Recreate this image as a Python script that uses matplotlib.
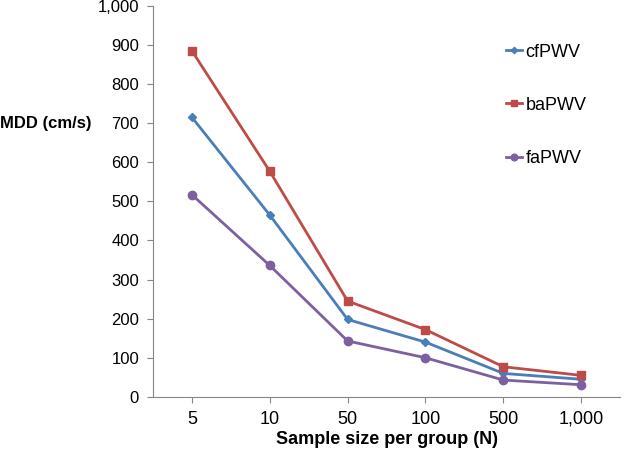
import matplotlib
matplotlib.use("agg")
import matplotlib.pyplot as plt
import numpy as np

# data
sizes = ["5", "10", "50", "100", "500", "1,000"]
cf_pwv = [715, 465, 198, 140, 60, 45]
ba_pwv = [885, 577, 245, 172, 77, 55]
fa_pwv = [517, 336, 143, 100, 43, 31]
y_ticks = [0, 100, 200, 300, 400, 500, 600, 700, 800, 900, 1000]

plt.rcParams["font.family"] = ["Liberation Sans", "DejaVu Sans"]

fig = plt.figure(figsize=(6.4, 4.51), dpi=100)
ax = fig.add_axes([0.239, 0.12, 0.730, 0.867])

x = np.arange(len(sizes))
ax.plot(x, cf_pwv, color="#4a7ebb", marker="D", markersize=4, lw=2, label="cfPWV")
ax.plot(x, ba_pwv, color="#be4b48", marker="s", markersize=6, lw=2, label="baPWV")
ax.plot(x, fa_pwv, color="#7d60a0", marker="o", markersize=6, lw=2, label="faPWV")

ax.set_xlim(-0.5, len(sizes) - 0.5)
ax.set_ylim(0, 1000)
ax.set_xticks(x)
ax.set_xticklabels(sizes)
ax.set_yticks(y_ticks)
ax.set_yticklabels([f"{v:,}" for v in y_ticks])
ax.tick_params(axis="both", labelsize=12, color="#868686", length=4, direction="out")
ax.tick_params(axis="x", labelsize=13, pad=6)
ax.tick_params(axis="y", pad=6)

for side in ["top", "right"]:
    ax.spines[side].set_visible(False)
for side in ["left", "bottom"]:
    ax.spines[side].set_color("#868686")

ax.set_xlabel("Sample size per group (N)", fontsize=13, fontweight="bold", labelpad=2)
ax.set_ylabel("MDD (cm/s)", fontsize=12, fontweight="bold", rotation=0, ha="left", va="center")
ax.yaxis.set_label_coords(-0.328, 0.70)

ax.legend(loc="upper left", bbox_to_anchor=(0.72, 0.945), frameon=False, fontsize=13,
          labelspacing=2.0, handlelength=0.9, handletextpad=0.2, markerscale=0.8)

fig.savefig("out.png", dpi=100)
plt.close()
